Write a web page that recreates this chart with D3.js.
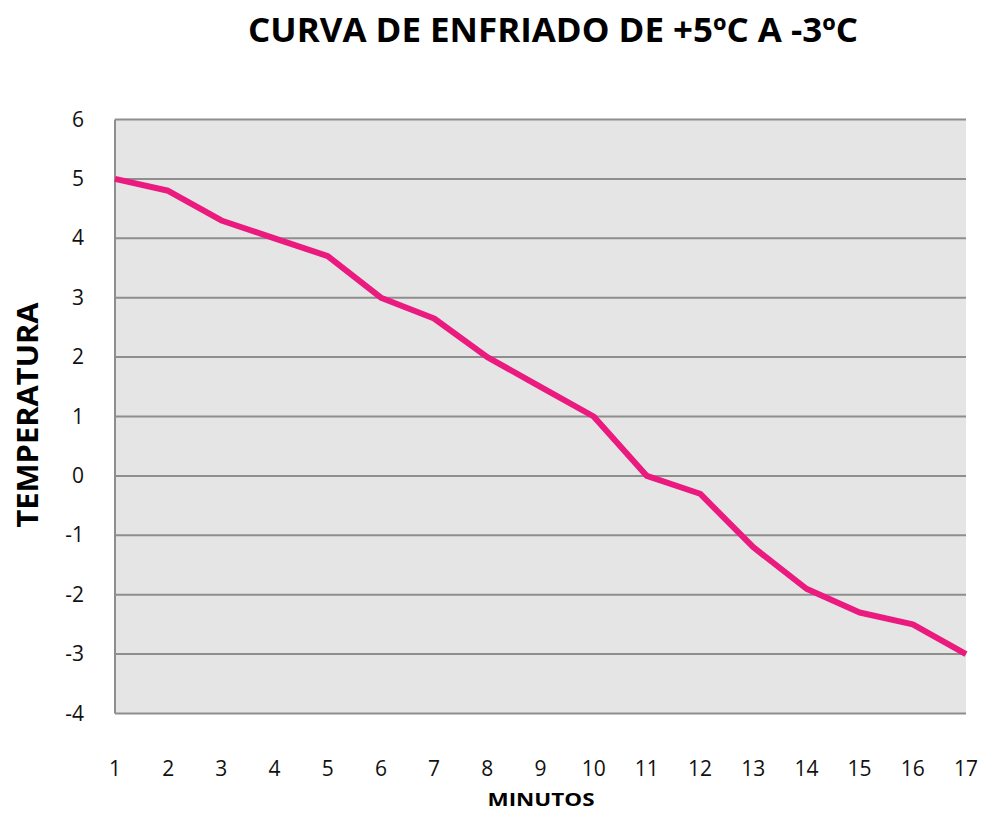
<!DOCTYPE html>
<html>
<head>
<meta charset="utf-8">
<script src="https://cdn.jsdelivr.net/npm/d3@7"></script>
<style>
  body { margin: 0; background: #fff; }
  text { font-family: "Open Sans", "DejaVu Sans", sans-serif; }
</style>
</head>
<body>
<svg id="chart" width="985" height="813"></svg>
<script>
// data
var minutes = [1, 2, 3, 4, 5, 6, 7, 8, 9, 10, 11, 12, 13, 14, 15, 16, 17];
var temps = [5.0, 4.8, 4.3, 4.0, 3.7, 3.0, 2.65, 2.0, 1.5, 1.0, 0.0, -0.3, -1.2, -1.9, -2.3, -2.5, -3.0];
var yTicks = [6, 5, 4, 3, 2, 1, 0, -1, -2, -3, -4];
var chartTitle = "CURVA DE ENFRIADO DE +5ºC A -3ºC";
var xTitle = "MINUTOS";
var yTitle = "TEMPERATURA";

var svg = d3.select("#chart");
var plotLeft = 115, plotRight = 966, plotTop = 119.5, plotBottom = 713.5;

var x = d3.scaleLinear().domain([1, 17]).range([plotLeft, plotRight]);
var y = d3.scaleLinear().domain([-4, 6]).range([plotBottom, plotTop]);

// plot background
svg.append("rect")
  .attr("x", plotLeft).attr("y", plotTop)
  .attr("width", plotRight - plotLeft).attr("height", plotBottom - plotTop)
  .attr("fill", "#e5e5e5");

// grid lines
svg.append("g").selectAll("line")
  .data(yTicks)
  .enter().append("line")
  .attr("x1", plotLeft).attr("x2", plotRight)
  .attr("y1", function(d) { return y(d); })
  .attr("y2", function(d) { return y(d); })
  .attr("stroke", "#8e8e8e").attr("stroke-width", 2);

// left axis line
svg.append("line")
  .attr("x1", plotLeft).attr("x2", plotLeft)
  .attr("y1", plotTop).attr("y2", plotBottom)
  .attr("stroke", "#8e8e8e").attr("stroke-width", 2);

// y tick labels
svg.append("g").selectAll("text")
  .data(yTicks)
  .enter().append("text")
  .attr("x", 84)
  .attr("y", function(d) { return y(d) + 7; })
  .attr("text-anchor", "end")
  .attr("font-size", "21px")
  .attr("fill", "#111")
  .text(function(d) { return d; });

// x tick labels
svg.append("g").selectAll("text")
  .data(minutes)
  .enter().append("text")
  .attr("x", function(d) { return x(d); })
  .attr("y", 776)
  .attr("text-anchor", "middle")
  .attr("font-size", "21px")
  .attr("fill", "#111")
  .text(function(d) { return d; });

// the curve
var line = d3.line()
  .x(function(d, i) { return x(minutes[i]); })
  .y(function(d) { return y(d); });

svg.append("path")
  .datum(temps)
  .attr("d", line)
  .attr("fill", "none")
  .attr("stroke", "#ea1a7f")
  .attr("stroke-width", 6)
  .attr("stroke-linejoin", "round");

// titles
svg.append("text")
  .attr("x", 553).attr("y", 42)
  .attr("text-anchor", "middle")
  .attr("font-size", "34px").attr("font-weight", 700)
  .attr("textLength", 610).attr("lengthAdjust", "spacingAndGlyphs")
  .attr("fill", "#000")
  .text(chartTitle);

svg.append("text")
  .attr("x", 541).attr("y", 806)
  .attr("text-anchor", "middle")
  .attr("font-size", "18px").attr("font-weight", 700)
  .attr("textLength", 107).attr("lengthAdjust", "spacingAndGlyphs")
  .attr("fill", "#000")
  .text(xTitle);

svg.append("text")
  .attr("transform", "translate(38,415) rotate(-90)")
  .attr("text-anchor", "middle")
  .attr("font-size", "29px").attr("font-weight", 700)
  .attr("textLength", 225).attr("lengthAdjust", "spacingAndGlyphs")
  .attr("fill", "#000")
  .text(yTitle);
</script>
</body>
</html>
